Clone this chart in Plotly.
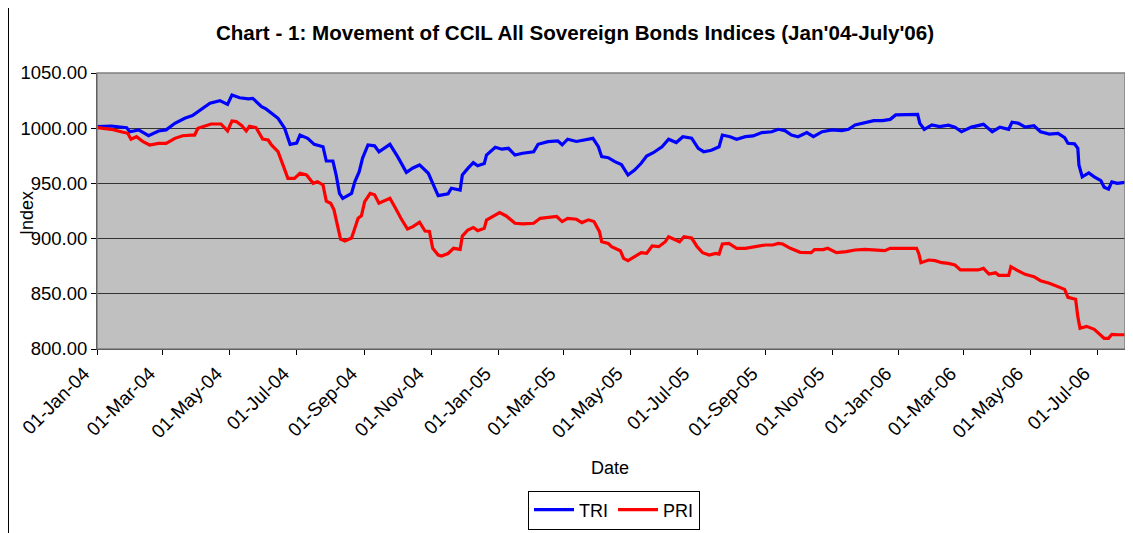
import plotly.graph_objects as go

# ---- data ----
tri_dates = [
    "2004-01-01", "2004-01-14", "2004-01-28", "2004-01-31", "2004-02-08", "2004-02-17", "2004-02-26",
    "2004-03-04", "2004-03-12", "2004-03-21", "2004-03-28", "2004-04-05", "2004-04-13", "2004-04-22",
    "2004-04-29", "2004-05-03", "2004-05-10", "2004-05-18", "2004-05-22", "2004-05-30", "2004-06-03",
    "2004-06-14", "2004-06-20", "2004-06-25", "2004-07-01", "2004-07-04", "2004-07-11", "2004-07-17",
    "2004-07-25", "2004-07-28", "2004-08-03", "2004-08-06", "2004-08-09", "2004-08-12", "2004-08-20",
    "2004-08-23", "2004-08-27", "2004-08-30", "2004-09-04", "2004-09-10", "2004-09-14", "2004-09-24",
    "2004-10-01", "2004-10-09", "2004-10-15", "2004-10-21", "2004-10-29", "2004-11-02", "2004-11-07",
    "2004-11-16", "2004-11-19", "2004-11-27", "2004-11-29", "2004-12-04", "2004-12-09", "2004-12-13",
    "2004-12-19", "2004-12-21", "2004-12-29", "2005-01-04", "2005-01-10", "2005-01-16", "2005-01-23",
    "2005-02-02", "2005-02-06", "2005-02-15", "2005-02-24", "2005-02-28", "2005-03-05", "2005-03-13",
    "2005-03-19", "2005-03-28", "2005-04-02", "2005-04-05", "2005-04-11", "2005-04-17", "2005-04-23",
    "2005-04-29", "2005-05-05", "2005-05-11", "2005-05-16", "2005-05-22", "2005-05-30", "2005-06-05",
    "2005-06-12", "2005-06-18", "2005-06-26", "2005-07-02", "2005-07-07", "2005-07-14", "2005-07-21",
    "2005-07-24", "2005-07-31", "2005-08-06", "2005-08-14", "2005-08-21", "2005-08-29", "2005-09-07",
    "2005-09-13", "2005-09-19", "2005-09-25", "2005-10-01", "2005-10-09", "2005-10-15", "2005-10-23",
    "2005-11-01", "2005-11-10", "2005-11-16", "2005-11-22", "2005-12-01", "2005-12-09", "2005-12-17",
    "2005-12-24", "2005-12-29", "2006-01-08", "2006-01-18", "2006-01-20", "2006-01-24", "2006-01-31",
    "2006-02-07", "2006-02-15", "2006-02-21", "2006-02-27", "2006-03-08", "2006-03-19", "2006-03-27",
    "2006-04-03", "2006-04-11", "2006-04-14", "2006-04-20", "2006-04-26", "2006-05-04", "2006-05-10",
    "2006-05-18", "2006-05-26", "2006-06-01", "2006-06-04", "2006-06-10", "2006-06-13", "2006-06-14",
    "2006-06-17", "2006-06-23", "2006-06-28", "2006-07-04", "2006-07-07", "2006-07-11", "2006-07-14",
    "2006-07-19", "2006-07-26",
]
tri_values = [
    1001.5, 1002.0, 1000.5, 996.8, 998.5, 993.2, 997.5,
    998.5, 1004.4, 1009.0, 1011.4, 1017.4, 1022.6, 1025.0,
    1021.6, 1030.0, 1027.6, 1026.5, 1027.0, 1019.5, 1017.5,
    1009.0, 1000.0, 985.4, 986.5, 993.8, 990.8, 985.4,
    983.2, 970.3, 970.3, 957.6, 941.0, 936.5, 941.0,
    951.5, 960.6, 972.7, 984.8, 984.0, 978.7, 985.4,
    974.2, 960.0, 964.0, 966.7, 959.2, 950.1, 938.9,
    940.5, 945.6, 944.0, 957.6, 963.6, 968.8, 966.0,
    968.0, 975.7, 982.7, 981.0, 981.8, 975.7, 977.3,
    978.7, 985.4, 987.8, 988.5, 985.0, 990.0, 988.0,
    989.3, 990.8, 983.2, 974.2, 973.3, 969.7, 967.0,
    957.6, 962.0, 968.2, 974.8, 977.8, 983.2, 990.0,
    987.0, 992.3, 991.0, 981.8, 978.7, 980.0, 983.2,
    993.8, 992.3, 990.0, 992.3, 993.0, 996.0, 996.8,
    999.0, 997.8, 993.8, 992.3, 996.0, 992.3, 996.8,
    998.5, 997.8, 999.0, 1002.9, 1005.0, 1006.8, 1006.8,
    1008.0, 1012.0, 1012.0, 1012.5, 1004.4, 999.0, 1003.0,
    1001.4, 1002.7, 1001.0, 996.8, 1001.0, 1003.5, 996.8,
    1001.0, 999.0, 1005.4, 1004.4, 1001.0, 1002.2, 996.8,
    994.7, 995.3, 991.4, 986.3, 985.8, 981.8, 966.7,
    956.0, 959.5, 956.0, 952.5, 946.5, 944.7, 951.4,
    950.0, 950.9,
]

pri_dates = [
    "2004-01-01", "2004-01-14", "2004-01-23", "2004-01-29", "2004-02-01", "2004-02-06", "2004-02-12",
    "2004-02-18", "2004-02-26", "2004-03-04", "2004-03-12", "2004-03-19", "2004-03-27", "2004-03-30",
    "2004-04-02", "2004-04-08", "2004-04-14", "2004-04-23", "2004-04-29", "2004-05-03", "2004-05-07",
    "2004-05-12", "2004-05-16", "2004-05-19", "2004-05-25", "2004-05-31", "2004-06-05", "2004-06-08",
    "2004-06-14", "2004-06-18", "2004-06-23", "2004-06-29", "2004-07-04", "2004-07-10", "2004-07-16",
    "2004-07-20", "2004-07-25", "2004-07-28", "2004-08-01", "2004-08-04", "2004-08-07", "2004-08-10",
    "2004-08-14", "2004-08-20", "2004-08-23", "2004-08-26", "2004-08-29", "2004-09-01", "2004-09-06",
    "2004-09-10", "2004-09-14", "2004-09-24", "2004-09-30", "2004-10-04", "2004-10-10", "2004-10-15",
    "2004-10-21", "2004-10-26", "2004-10-30", "2004-11-02", "2004-11-07", "2004-11-10", "2004-11-16",
    "2004-11-21", "2004-11-27", "2004-11-29", "2004-12-04", "2004-12-09", "2004-12-13", "2004-12-19",
    "2004-12-21", "2004-12-27", "2005-01-02", "2005-01-08", "2005-01-16", "2005-01-23", "2005-02-02",
    "2005-02-08", "2005-02-15", "2005-02-23", "2005-02-28", "2005-03-05", "2005-03-13", "2005-03-18",
    "2005-03-24", "2005-03-29", "2005-04-03", "2005-04-05", "2005-04-11", "2005-04-14", "2005-04-22",
    "2005-04-25", "2005-04-29", "2005-05-05", "2005-05-11", "2005-05-16", "2005-05-21", "2005-05-27",
    "2005-06-02", "2005-06-05", "2005-06-11", "2005-06-15", "2005-06-19", "2005-06-26", "2005-07-01",
    "2005-07-06", "2005-07-12", "2005-07-18", "2005-07-21", "2005-07-24", "2005-07-30", "2005-08-06",
    "2005-08-14", "2005-08-23", "2005-09-01", "2005-09-08", "2005-09-13", "2005-09-17", "2005-09-24",
    "2005-10-03", "2005-10-13", "2005-10-16", "2005-10-24", "2005-10-28", "2005-11-05", "2005-11-14",
    "2005-11-22", "2005-12-01", "2005-12-10", "2005-12-19", "2005-12-24", "2006-01-03", "2006-01-17",
    "2006-01-19", "2006-01-21", "2006-01-28", "2006-02-03", "2006-02-09", "2006-02-15", "2006-02-21",
    "2006-02-26", "2006-03-05", "2006-03-14", "2006-03-19", "2006-03-24", "2006-03-30", "2006-04-02",
    "2006-04-11", "2006-04-13", "2006-04-18", "2006-04-26", "2006-05-04", "2006-05-10", "2006-05-18",
    "2006-05-26", "2006-06-01", "2006-06-04", "2006-06-11", "2006-06-13", "2006-06-15", "2006-06-21",
    "2006-06-28", "2006-07-02", "2006-07-07", "2006-07-11", "2006-07-14", "2006-07-20", "2006-07-26",
]
pri_values = [
    1000.5, 999.0, 996.8, 995.4, 990.0, 992.3, 987.8,
    984.8, 986.3, 986.3, 990.8, 993.2, 993.8, 993.8,
    1000.0, 1001.7, 1003.8, 1003.8, 997.5, 1006.5, 1006.0,
    1002.2, 997.5, 1001.7, 1000.5, 990.2, 989.3, 984.8,
    978.7, 968.2, 954.6, 954.6, 959.2, 957.6, 950.1,
    951.5, 948.6, 934.0, 932.0, 926.0, 912.3, 899.6,
    897.8, 900.5, 909.3, 918.4, 920.7, 933.4, 941.0,
    939.7, 932.0, 936.5, 926.0, 918.4, 908.7, 910.8,
    914.8, 906.9, 906.5, 891.2, 885.1, 884.2, 886.5,
    891.2, 890.3, 902.3, 907.8, 910.0, 907.2, 909.3,
    916.8, 920.5, 923.5, 920.5, 913.9, 913.3, 913.9,
    918.4, 919.3, 920.0, 915.4, 918.4, 917.5, 914.5,
    917.0, 915.4, 906.3, 897.2, 895.7, 892.7, 889.0,
    882.1, 880.0, 883.6, 887.2, 886.6, 893.3, 892.7,
    897.2, 901.7, 898.6, 897.2, 901.7, 900.5, 892.7,
    887.2, 885.1, 886.6, 886.0, 895.1, 895.7, 891.2,
    891.2, 892.7, 894.2, 894.2, 895.7, 895.1, 891.2,
    887.6, 887.3, 890.0, 890.0, 891.2, 887.3, 888.2,
    889.7, 890.3, 889.7, 889.1, 891.2, 891.2, 891.2,
    886.6, 878.2, 880.6, 880.0, 878.2, 877.6, 876.1,
    871.6, 871.6, 871.6, 873.0, 867.9, 869.0, 866.7,
    866.7, 874.6, 871.6, 867.6, 865.5, 861.9, 859.5,
    856.6, 854.0, 846.8, 845.0, 829.3, 818.8, 820.5,
    817.8, 814.2, 809.7, 809.7, 813.3, 812.9, 812.9,
]

series_names = ["TRI", "PRI"]
series_colors = ["#0000FF", "#FF0000"]
title_text = "Chart - 1: Movement of CCIL All Sovereign Bonds Indices (Jan'04-July'06)"
y_ticks = [800, 850, 900, 950, 1000, 1050]

FONT = "Liberation Sans, Arial, sans-serif"

# The page body has an 8px margin, so the figure is drawn 8px smaller and
# all pixel positions below are expressed in figure coordinates.
W, H = 1125, 525
PL, PR, PT, PB = 89, 1117, 65, 341  # plot area in figure pixels
PW, PH = PR - PL, PB - PT


def px(xpix):
    return (xpix - PL) / PW


def py(ypix):
    return (PB - ypix) / PH


fig = go.Figure()
for name, color, xs, ys in [
    (series_names[0], series_colors[0], tri_dates, tri_values),
    (series_names[1], series_colors[1], pri_dates, pri_values),
]:
    fig.add_trace(go.Scatter(x=xs, y=ys, mode="lines", name=name,
                             line=dict(color=color, width=3.2, shape="linear")))

fig.update_layout(
    width=W, height=H,
    margin=dict(l=PL, r=W - PR, t=PT, b=H - PB, autoexpand=False),
    paper_bgcolor="white",
    plot_bgcolor="#C0C0C0",
    font=dict(family=FONT, size=18, color="black"),
    title=dict(text="<b>" + title_text + "</b>", x=567 / W, xanchor="center",
               y=1 - 25 / H, yanchor="middle", font=dict(family=FONT, size=20.6, color="black")),
    showlegend=True,
    legend=dict(orientation="h", x=px(606), xanchor="center", y=py(502), yanchor="middle",
                bgcolor="white", bordercolor="black", borderwidth=1,
                font=dict(family=FONT, size=18), itemwidth=40, tracegroupgap=0),
)

fig.update_xaxes(
    type="date",
    range=["2004-01-01", "2006-07-26"],
    tick0="2004-01-01", dtick="M2", tickformat="%d-%b-%y",
    tickangle=-45, ticks="outside", ticklen=5, tickcolor="black",
    ticklabelshift=-13,
    showgrid=False, zeroline=False,
    showline=True, linecolor="black", linewidth=1,
    tickfont=dict(family=FONT, size=19),
)
fig.update_yaxes(
    range=[800, 1050], tickvals=y_ticks, tickformat=".2f",
    ticks="outside", ticklen=5, tickcolor="black",
    showgrid=True, gridcolor="#333333", gridwidth=1,
    zeroline=False, showline=True, linecolor="black", linewidth=1,
    tickfont=dict(family=FONT, size=18.5),
)

# plot-area frame (gray, Excel style)
fig.add_shape(type="rect", xref="paper", yref="paper", x0=0, x1=1, y0=0, y1=1,
              line=dict(color="#808080", width=1.5), layer="above")
# chart-area left frame line
fig.add_shape(type="line", xref="paper", yref="paper",
              x0=px(0.5), x1=px(0.5), y0=py(H), y1=py(0),
              line=dict(color="black", width=1))

fig.add_annotation(text="Date", xref="paper", yref="paper", x=px(602), y=py(460),
                   showarrow=False, font=dict(family=FONT, size=18), xanchor="center", yanchor="middle")
fig.add_annotation(text="Index", xref="paper", yref="paper", x=px(19), y=py(205),
                   showarrow=False, textangle=-90, font=dict(family=FONT, size=18),
                   xanchor="center", yanchor="middle")

fig.write_html("out.html")
